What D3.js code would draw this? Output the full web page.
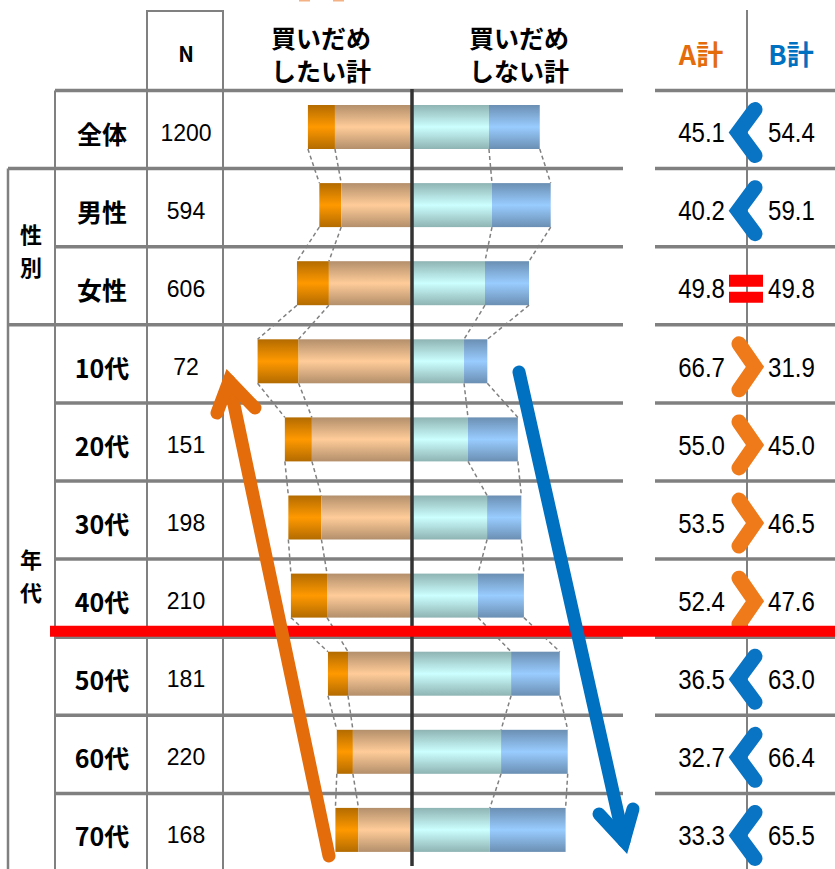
<!DOCTYPE html>
<html lang="ja">
<head>
<meta charset="utf-8">
<title>買いだめ意向</title>
<script src="https://cdn.jsdelivr.net/npm/d3@7"></script>
<style>
  body { margin: 0; background: #fff; }
  text { font-family: "Noto Sans CJK JP", "Noto Sans", sans-serif; }
  .num { font-family: "Liberation Sans", Arial, sans-serif; }
</style>
</head>
<body>
<script>
// data
const rows = ["全体", "男性", "女性", "10代", "20代", "30代", "40代", "50代", "60代", "70代"];
const nValues = [1200, 594, 606, 72, 151, 198, 210, 181, 220, 168];
const aStrong = [11.6, 9.4, 13.7, 17.6, 11.6, 14.2, 15.5, 8.6, 6.9, 9.9];   // 買いだめしたい
const aSome = [33.5, 30.8, 36.1, 49.1, 43.4, 39.3, 36.9, 27.9, 25.8, 23.4];  // ややしたい
const bSome = [32.6, 33.9, 30.9, 21.9, 23.6, 31.8, 27.9, 42.1, 37.8, 33.0];  // あまりしない
const bStrong = [21.8, 25.2, 18.9, 10.0, 21.4, 14.7, 19.7, 20.9, 28.6, 32.5]; // しない
const aTotal = [45.1, 40.2, 49.8, 66.7, 55.0, 53.5, 52.4, 36.5, 32.7, 33.3];
const bTotal = [54.4, 59.1, 49.8, 31.9, 45.0, 46.5, 47.6, 63.0, 66.4, 65.5];
const groupNames = ["性別", "年代"];

const width = 835, height = 869;
const gray = "#808080";

const svg = d3.select("body").append("svg")
    .attr("width", width).attr("height", height);

const defs = svg.append("defs");
function grad(id, edge, mid) {
  const g = defs.append("linearGradient").attr("id", id)
      .attr("x1", 0).attr("y1", 0).attr("x2", 0).attr("y2", 1);
  g.append("stop").attr("offset", "0%").attr("stop-color", edge);
  g.append("stop").attr("offset", "50%").attr("stop-color", mid);
  g.append("stop").attr("offset", "100%").attr("stop-color", edge);
}
grad("gA1", "#b36b00", "#ff9900");
grad("gA2", "#b38f6b", "#ffcc99");
grad("gB1", "#8fb3b3", "#ccffff");
grad("gB2", "#6b8fb3", "#99ccff");

// scales
const y = d3.scaleBand().domain(rows).range([90.5, 90.5 + 78.1 * 10]);
const step = y.step();
const zero = 413;
const k = d3.scaleLinear().domain([0, 100]).range([0, 233]);
const barOff = 14.5, barH = 44;

const data = rows.map((r, i) => ({
  row: r, n: nValues[i], a1: aStrong[i], a2: aSome[i], b1: bSome[i], b2: bStrong[i],
  a: aTotal[i], b: bTotal[i]
}));

// small marks at top
svg.append("rect").attr("x", 299).attr("y", 0).attr("width", 11).attr("height", 1.5).attr("fill", "#f4b183");
svg.append("rect").attr("x", 333).attr("y", 0).attr("width", 11).attr("height", 1.5).attr("fill", "#f4b183");

// grid lines
const grid = svg.append("g").attr("stroke", gray);
const groupStarts = ["男性", "10代"];
rows.forEach((r, i) => {
  const yy = y(r);
  const startX = i === 0 ? 55 : (groupStarts.includes(r) ? 8 : 55);
  grid.append("line").attr("x1", startX).attr("x2", 623)
      .attr("y1", yy).attr("y2", yy).attr("stroke-width", 3.5);
  grid.append("line").attr("x1", 655).attr("x2", 835)
      .attr("y1", yy).attr("y2", yy).attr("stroke-width", 3.5);
});
// verticals
grid.append("line").attr("x1", 8).attr("x2", 8).attr("y1", y("男性")).attr("y2", height).attr("stroke-width", 2.5);
grid.append("line").attr("x1", 55).attr("x2", 55).attr("y1", y("全体")).attr("y2", height).attr("stroke-width", 2);
grid.append("line").attr("x1", 147).attr("x2", 147).attr("y1", 11).attr("y2", height).attr("stroke-width", 2);
grid.append("line").attr("x1", 223).attr("x2", 223).attr("y1", 11).attr("y2", height).attr("stroke-width", 2);
grid.append("line").attr("x1", 146).attr("x2", 224).attr("y1", 11).attr("y2", 11).attr("stroke-width", 2);
grid.append("line").attr("x1", 747).attr("x2", 747).attr("y1", 10).attr("y2", height).attr("stroke-width", 2);

// bars
const bars = svg.append("g");
data.forEach(d => {
  const top = y(d.row) + barOff;
  bars.append("rect").attr("x", zero - k(d.a1 + d.a2)).attr("y", top)
      .attr("width", k(d.a1)).attr("height", barH).attr("fill", "url(#gA1)");
  bars.append("rect").attr("x", zero - k(d.a2)).attr("y", top)
      .attr("width", k(d.a2)).attr("height", barH).attr("fill", "url(#gA2)");
  bars.append("rect").attr("x", zero).attr("y", top)
      .attr("width", k(d.b1)).attr("height", barH).attr("fill", "url(#gB1)");
  bars.append("rect").attr("x", zero + k(d.b1)).attr("y", top)
      .attr("width", k(d.b2)).attr("height", barH).attr("fill", "url(#gB2)");
});

// dashed connectors
const edges = d => [zero - k(d.a1 + d.a2), zero - k(d.a2), zero + k(d.b1), zero + k(d.b1 + d.b2)];
const conn = svg.append("g").attr("stroke", gray).attr("stroke-width", 1.5)
    .attr("stroke-dasharray", "4,3").attr("fill", "none");
for (let i = 0; i < data.length - 1; i++) {
  const e0 = edges(data[i]), e1 = edges(data[i + 1]);
  const y0 = y(data[i].row) + barOff + barH, y1 = y(data[i + 1].row) + barOff;
  e0.forEach((x, j) => {
    conn.append("line").attr("x1", x).attr("y1", y0).attr("x2", e1[j]).attr("y2", y1);
  });
}

// center axis
svg.append("line").attr("x1", 412).attr("x2", 412).attr("y1", 89).attr("y2", 866)
    .attr("stroke", "#333").attr("stroke-width", 3.5);

// headers
const hdr = svg.append("g").attr("font-weight", "bold").attr("fill", "#000")
    .attr("text-anchor", "middle").attr("dominant-baseline", "central");
hdr.append("text").attr("x", 186).attr("y", 53).attr("font-size", 21).text("N");
[["買いだめ", "したい計", 321], ["買いだめ", "しない計", 519]].forEach(h => {
  const t = hdr.append("text").attr("x", h[2]).attr("y", 37).attr("font-size", 25);
  t.append("tspan").attr("x", h[2]).attr("y", 37).text(h[0]);
  t.append("tspan").attr("x", h[2]).attr("y", 70).text(h[1]);
});
hdr.append("text").attr("x", 701).attr("y", 53).attr("font-size", 27).attr("fill", "#e46c0a").text("A計");
hdr.append("text").attr("x", 791).attr("y", 53).attr("font-size", 27).attr("fill", "#0070c0").text("B計");

// group labels (vertical, two stacked characters)
const grp = svg.append("g").attr("font-weight", "bold").attr("font-size", 22)
    .attr("text-anchor", "middle").attr("dominant-baseline", "central");
const gMid = [y("男性") + step + 3, y("40代") + 15];
groupNames.forEach((g, i) => {
  grp.append("text").attr("x", 31).attr("y", gMid[i] - 16.5).text(g[0]);
  grp.append("text").attr("x", 31).attr("y", gMid[i] + 16.5).text(g[1]);
});

// row labels, N, totals
const lab = svg.append("g").attr("dominant-baseline", "central");
data.forEach(d => {
  const cy = y(d.row) + step / 2 + 3;
  lab.append("text").attr("x", 102).attr("y", cy).attr("text-anchor", "middle")
      .attr("font-weight", "bold").attr("font-size", 25).text(d.row);
  lab.append("text").attr("class", "num").attr("x", 186).attr("y", cy).attr("text-anchor", "middle")
      .attr("font-size", 23).text(d.n);
  lab.append("text").attr("class", "num").attr("text-anchor", "end")
      .attr("transform", `translate(725,${cy}) scale(0.86,1)`)
      .attr("font-size", 28).text(d.a.toFixed(1));
  lab.append("text").attr("class", "num").attr("text-anchor", "start")
      .attr("transform", `translate(768,${cy}) scale(0.86,1)`)
      .attr("font-size", 28).text(d.b.toFixed(1));
});

// comparison symbols
const sym = svg.append("g");
data.forEach(d => {
  const cy = y(d.row) + step / 2 + 3;
  if (d.a < d.b) {
    sym.append("path").attr("d", `M755,${cy - 23} L738,${cy} L755,${cy + 23}`)
        .attr("fill", "none").attr("stroke", "#0a74c4").attr("stroke-width", 15)
        .attr("stroke-linejoin", "miter").attr("stroke-linecap", "round");
  } else if (d.a > d.b) {
    sym.append("path").attr("d", `M739,${cy - 23} L755,${cy} L739,${cy + 23}`)
        .attr("fill", "none").attr("stroke", "#ee7a1a").attr("stroke-width", 15)
        .attr("stroke-linejoin", "miter").attr("stroke-linecap", "round");
  } else {
    sym.append("rect").attr("x", 729).attr("y", cy - 14).attr("width", 34).attr("height", 12).attr("fill", "#ff0000");
    sym.append("rect").attr("x", 729).attr("y", cy + 3).attr("width", 34).attr("height", 11).attr("fill", "#ff0000");
  }
});

// red divider between 40代 and 50代
svg.append("line").attr("x1", 50).attr("x2", width)
    .attr("y1", y("50代") - 6).attr("y2", y("50代") - 6)
    .attr("stroke", "#ff0000").attr("stroke-width", 11);

// trend arrows
function arrow(x0, y0, vx, vy, w1, w2, color) {
  const g = svg.append("g").attr("stroke", color).attr("stroke-width", 13).attr("fill", "none");
  g.append("line").attr("x1", x0).attr("y1", y0).attr("x2", vx).attr("y2", vy)
      .attr("stroke-linecap", "round");
  g.append("path").attr("d", `M${w1[0]},${w1[1]} L${vx},${vy} L${w2[0]},${w2[1]}`)
      .attr("stroke-linejoin", "miter").attr("stroke-miterlimit", 10).attr("stroke-linecap", "round");
}
arrow(329, 856, 229, 381, [217, 413], [255, 408], "#e46c0a");
arrow(519, 372, 624, 841, [599, 814], [633, 809], "#0070c0");
</script>
</body>
</html>
